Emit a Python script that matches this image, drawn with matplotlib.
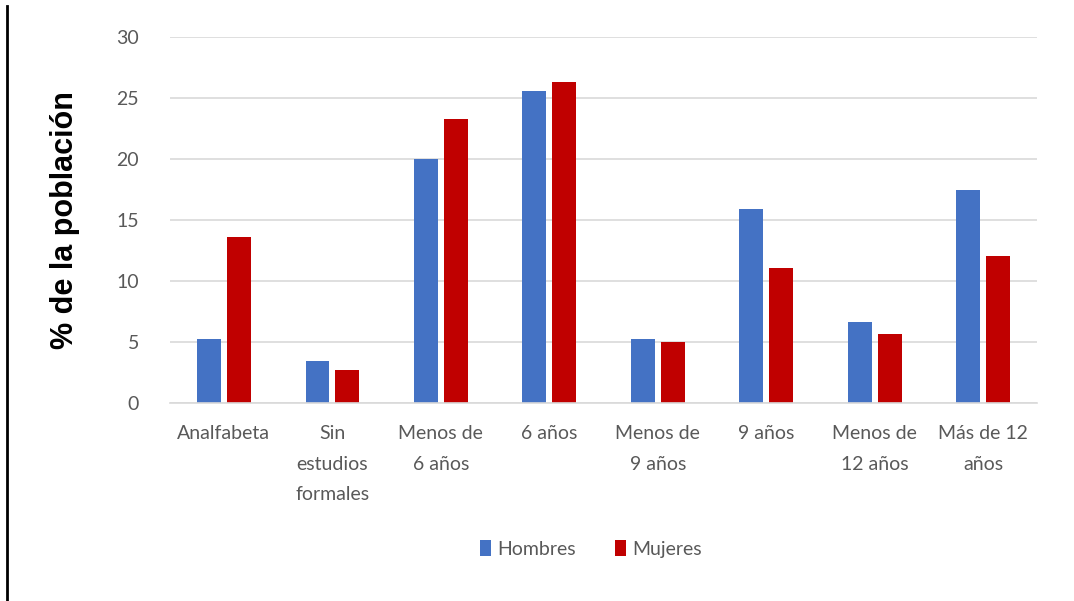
import matplotlib.pyplot as plt
import numpy as np
from matplotlib.lines import Line2D

# datos
categorias = ['Analfabeta', 'Sin\nestudios\nformales', 'Menos de\n6 años', '6 años',
              'Menos de\n9 años', '9 años', 'Menos de\n12 años', 'Más de 12\naños']
hombres = [5.3, 3.5, 20.0, 25.6, 5.3, 15.9, 6.7, 17.5]
mujeres = [13.6, 2.7, 23.3, 26.3, 5.0, 11.1, 5.7, 12.1]

plt.rcParams['font.family'] = ['Lato', 'DejaVu Sans']

fig = plt.figure(figsize=(10.74, 6.01), dpi=100)
ax = fig.add_axes([0.158, 0.329, 0.808, 0.609])

x = np.arange(len(categorias))
w = 0.22
ax.bar(x - 0.138, hombres, w, color='#4472C4', label='Hombres')
ax.bar(x + 0.138, mujeres, w, color='#C00000', label='Mujeres')

ax.set_xlim(-0.5, len(categorias) - 0.5)
ax.set_ylim(0, 30)
ax.set_yticks(range(0, 31, 5))
ax.grid(axis='y', color='#D9D9D9', linewidth=1.2)
ax.set_axisbelow(True)
for s in ['top', 'right', 'left']:
    ax.spines[s].set_visible(False)
ax.spines['bottom'].set_color('#D9D9D9')
ax.spines['bottom'].set_linewidth(1.2)
ax.tick_params(axis='both', length=0, colors='#595959', labelsize=14)
ax.tick_params(axis='y', pad=22)
ax.tick_params(axis='x', pad=16)
ax.set_xticks(x)
ax.set_xticklabels(categorias, linespacing=1.95)

ax.set_ylabel('% de la población', fontsize=22, family='Liberation Sans',
              fontweight='bold', color='black', labelpad=26)

ax.legend(loc='upper center', bbox_to_anchor=(0.485, -0.325), ncol=2, frameon=False,
          fontsize=14, labelcolor='#595959', handlelength=0.6, handleheight=0.9,
          handletextpad=0.3, columnspacing=2.0)

# línea vertical a la izquierda
fig.add_artist(Line2D([0.0065, 0.0065], [0.0, 0.99], color='black', linewidth=2))

fig.savefig('out.png', dpi=100)
